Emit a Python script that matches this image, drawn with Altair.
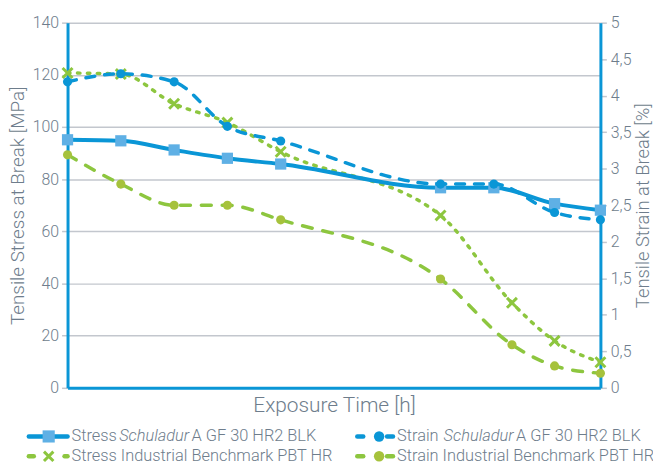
import altair as alt
import pandas as pd

# ---------------- data ----------------
hours_schuladur = [0, 500, 1000, 1500, 2000, 3500, 4000, 4570, 5000]
stress_schuladur = [95.1, 94.7, 91.2, 88.0, 85.8, 76.7, 76.7, 70.6, 68.1]
strain_schuladur = [4.19, 4.30, 4.19, 3.58, 3.38, 2.79, 2.79, 2.40, 2.30]

hours_benchmark = [0, 500, 1000, 1500, 2000, 3500, 4170, 4570, 5000]
stress_benchmark = [120.7, 120.3, 108.9, 101.7, 90.5, 66.1, 32.6, 18.0, 9.8]
strain_benchmark = [3.19, 2.79, 2.50, 2.50, 2.30, 1.49, 0.59, 0.30, 0.20]

stress_ticks = [0, 20, 40, 60, 80, 100, 120, 140]
strain_ticks = [0, 0.5, 1, 1.5, 2, 2.5, 3, 3.5, 4, 4.5, 5]

legend_prefix = ["Stress", "Strain"]
legend_brand = "Schuladur"
legend_product = "A GF 30 HR2 BLK"
legend_benchmark = "Industrial Benchmark PBT HR"

# ---------------- styles ----------------
BLUE = "#0a96d6"
LIGHT_BLUE = "#5fb0e5"
GREEN = "#8dc63f"
OLIVE = "#a6c23c"
GRAY = "#6e7d8c"
GRID = "#c3c7ce"
FONT = "Roboto"
CROSS = "M-1,-1L1,1M-1,1L1,-1"

df_s = pd.DataFrame({"h": hours_schuladur, "stress": stress_schuladur, "strain": strain_schuladur})
df_b = pd.DataFrame({"h": hours_benchmark, "stress": stress_benchmark, "strain": strain_benchmark})

x_axis = alt.Axis(title="Exposure Time [h]", labels=False, ticks=False, grid=False,
                  domainColor=BLUE, domainWidth=3, titleFont=FONT, titleFontSize=21,
                  titleFontWeight=300, titleColor=GRAY, titlePadding=7)
X = alt.X("h:Q", scale=alt.Scale(domain=[0, 5000], nice=False, zero=False), axis=x_axis)

left_axis = alt.Axis(title="Tensile Stress at Break [MPa]", orient="left", values=stress_ticks,
                     grid=True, gridColor=GRID, gridWidth=1.5, domainColor=BLUE, domainWidth=3,
                     tickColor=GRID, tickSize=6, tickWidth=1.5, labelFont=FONT, labelFontSize=16,
                     labelFontWeight=300, labelColor=GRAY, labelPadding=3, titleFont=FONT,
                     titleFontSize=19, titleFontWeight=300, titleColor=GRAY,
                     titleX=-50, titleY=184, titleAngle=270, titleAlign="center",
                     titleBaseline="middle")
right_axis = alt.Axis(title="Tensile Strain at Break [%]", orient="right", values=strain_ticks,
                      grid=False, domainColor=BLUE, domainWidth=3, tickColor=GRID, tickSize=6,
                      tickWidth=1.5, labelFont=FONT, labelFontSize=16, labelFontWeight=300,
                      labelColor=GRAY, labelPadding=4,
                      labelExpr="replace(format(datum.value, '~g'), '.', ',')",
                      titleFont=FONT, titleFontSize=18.5, titleFontWeight=300, titleColor=GRAY,
                      titleX=42, titleY=184, titleAngle=270, titleAlign="center",
                      titleBaseline="middle")


def Ys(axis=None):
    return alt.Y("stress:Q", scale=alt.Scale(domain=[0, 140], nice=False, zero=True), axis=axis)


def Yr(axis=None):
    return alt.Y("strain:Q", scale=alt.Scale(domain=[0, 5], nice=False, zero=True), axis=axis)


# strain benchmark (bottom)
sb_line = alt.Chart(df_b).mark_line(interpolate="monotone", color=GREEN, strokeWidth=3.5,
                                    strokeDash=[10, 11], strokeCap="round").encode(x=X, y=Yr())
sb_pts = alt.Chart(df_b).mark_point(shape="circle", filled=True, color=OLIVE, size=85,
                                    opacity=1).encode(x=X, y=Yr())
# stress benchmark
tb_line = alt.Chart(df_b).mark_line(interpolate="monotone", color=GREEN, strokeWidth=3.5,
                                    strokeDash=[2.5, 7.5], strokeCap="round").encode(x=X, y=Ys(left_axis))
tb_pts = alt.Chart(df_b).mark_point(shape=CROSS, filled=False, color=GREEN, strokeWidth=3,
                                    size=100, opacity=1).encode(x=X, y=Ys())
# stress schuladur
ts_line = alt.Chart(df_s).mark_line(interpolate="monotone", color=BLUE, strokeWidth=4).encode(x=X, y=Ys())
ts_pts = alt.Chart(df_s).mark_point(shape="square", filled=True, color=LIGHT_BLUE, size=128,
                                    opacity=1).encode(x=X, y=Ys())
# strain schuladur (top)
ss_line = alt.Chart(df_s).mark_line(interpolate="monotone", color=BLUE, strokeWidth=3.5,
                                    strokeDash=[9, 10], strokeCap="round").encode(x=X, y=Yr(right_axis))
ss_pts = alt.Chart(df_s).mark_point(shape="circle", filled=True, color=BLUE, size=85,
                                    opacity=1).encode(x=X, y=Yr())

# ---------------- hand-built legend (below plot) ----------------
one = pd.DataFrame({"k": [0]})
R1, R2 = 417, 437          # row centres relative to plot top
C1, C2 = 4, 332            # text start of the two columns
FS = 16.5


def seg(x1, x2, y, color, width=4.5):
    return alt.Chart(one).mark_rule(color=color, strokeWidth=width, strokeCap="round").encode(
        x=alt.value(x1), x2=alt.value(x2), y=alt.value(y))


def sym(x, y, shape, color, size, filled=True):
    kw = dict(shape=shape, color=color, size=size, opacity=1, filled=filled)
    if not filled:
        kw["strokeWidth"] = 3
    return alt.Chart(one).mark_point(**kw).encode(x=alt.value(x), y=alt.value(y))


def txt(x, y, s, italic=False):
    return alt.Chart(one).mark_text(text=s, align="left", baseline="middle", font=FONT,
                                    fontSize=FS, fontWeight=300, color=GRAY,
                                    fontStyle="italic" if italic else "normal").encode(
        x=alt.value(x), y=alt.value(y))


legend = [
    seg(-39, 0, R1, BLUE), sym(-19, R1, "square", LIGHT_BLUE, 150),
    txt(C1, R1, legend_prefix[0]), txt(C1 + 48, R1, legend_brand, True), txt(C1 + 121, R1, legend_product),
    seg(-39, -34, R2, GREEN), seg(-3, 0, R2, GREEN), sym(-19, R2, CROSS, GREEN, 90, False),
    txt(C1, R2, legend_prefix[0] + " " + legend_benchmark),
    seg(C2 - 40, C2 - 34, R1, BLUE), seg(C2 - 10, C2 - 4, R1, BLUE), sym(C2 - 18, R1, "circle", BLUE, 110),
    txt(C2, R1, legend_prefix[1]), txt(C2 + 47, R1, legend_brand, True), txt(C2 + 120, R1, legend_product),
    seg(C2 - 40, C2 - 34, R2, GREEN), seg(C2 - 10, C2 - 4, R2, GREEN), sym(C2 - 18, R2, "circle", OLIVE, 110),
    txt(C2, R2, legend_prefix[1] + " " + legend_benchmark),
]

chart = alt.layer(sb_line, sb_pts, tb_line, tb_pts, ts_line, ts_pts, ss_line, ss_pts, *legend).resolve_scale(
    y="independent"
).properties(
    width=537, height=368,
    padding={"left": 60, "top": 13, "right": 53, "bottom": 75},
    autosize=alt.AutoSizeParams(type="none"),
).configure_view(stroke=None)

chart.save("out.html", embed_options={"renderer": "svg", "actions": False})
